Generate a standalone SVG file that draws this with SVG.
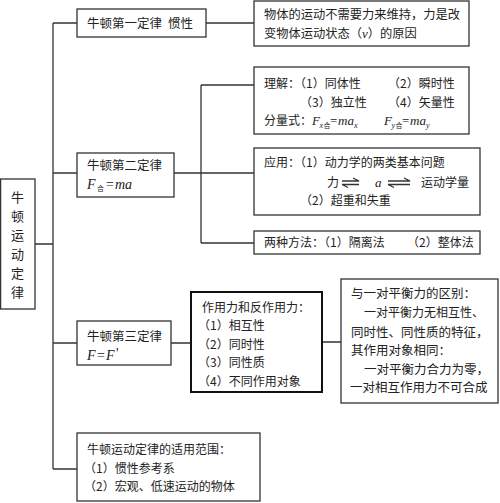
<svg xmlns="http://www.w3.org/2000/svg" width="500" height="503" viewBox="0 0 500 503">
<style>
  .box{fill:#fff;stroke:#333;stroke-width:1.3}
  .thick{fill:#fff;stroke:#111;stroke-width:2}
  .ln{fill:none;stroke:#333;stroke-width:1.3}
  text{font-family:"Noto Sans CJK SC","Noto Sans CJK JP",sans-serif;font-size:12px;fill:#222}
  .it{font-family:"Liberation Serif",serif;font-style:italic;font-size:14px}
  .eq{font-family:"Liberation Serif",serif;font-size:14px}
  .sub{font-size:7px}
  .subi{font-family:"Liberation Serif",serif;font-style:italic;font-size:8px}
  .big{font-size:12.5px}
  .root{font-size:13px;text-anchor:middle}
</style>
<rect width="500" height="503" fill="#fff"/>
<g id="connectors">
  <path class="ln" d="M35,244H53M53,23V469M53,23H77M53,173H77M53,343H77M53,469H77"/>
  <path class="ln" d="M206,23H254"/>
  <path class="ln" d="M174,173H254M201,85V243M201,85H254M201,243H254"/>
  <path class="ln" d="M171,343H191M322,342H341"/>
</g>
<g id="root">
  <rect class="box" x="0.6" y="179" width="34.4" height="130"/>
  <text class="root" x="17.5" y="202">牛</text>
  <text class="root" x="17.5" y="221">顿</text>
  <text class="root" x="17.5" y="240">运</text>
  <text class="root" x="17.5" y="259">动</text>
  <text class="root" x="17.5" y="278">定</text>
  <text class="root" x="17.5" y="297">律</text>
</g>
<g id="law1">
  <rect class="box" x="77" y="9" width="129" height="28"/>
  <text class="big" x="87" y="28">牛顿第一定律</text>
  <text class="big" x="168" y="28">惯性</text>
</g>
<g id="law1-desc">
  <rect class="box" x="254" y="1" width="215" height="45"/>
  <text x="264" y="19" style="font-size:12.25px">物体的运动不需要力来维持，力是改</text>
  <text x="264" y="38" style="font-size:12.25px">变物体运动状态（<tspan class="it" style="font-size:13px">v</tspan>）的原因</text>
</g>
<g id="law2">
  <rect class="box" x="77" y="153" width="97" height="44"/>
  <text class="big" x="87" y="170">牛顿第二定律</text>
  <text class="it" x="87" y="189">F</text>
  <text class="sub" x="97" y="191">合</text>
  <text class="eq" x="106" y="189">=</text>
  <text class="it" x="115" y="189">ma</text>
</g>
<g id="law2-understand">
  <rect class="box" x="254" y="67" width="215" height="67"/>
  <text x="264" y="88">理解：（1）同体性</text>
  <text x="388" y="88">（2）瞬时性</text>
  <text x="300" y="107">（3）独立性</text>
  <text x="388" y="107">（4）矢量性</text>
  <text x="264" y="125">分量式：</text>
  <text class="it" x="312" y="125" style="font-size:13px">F</text>
  <text class="subi" x="319.5" y="128">x</text>
  <text class="sub" x="323.5" y="128">合</text>
  <text class="eq" x="330" y="125" style="font-size:13px">=</text>
  <text class="it" x="338" y="125" style="font-size:13px">ma</text>
  <text class="subi" x="354" y="128">x</text>
  <text class="it" x="384" y="125" style="font-size:13px">F</text>
  <text class="subi" x="391.5" y="128">y</text>
  <text class="sub" x="395.5" y="128">合</text>
  <text class="eq" x="402" y="125" style="font-size:13px">=</text>
  <text class="it" x="410" y="125" style="font-size:13px">ma</text>
  <text class="subi" x="426" y="128">y</text>
</g>
<g id="law2-apply">
  <rect class="box" x="254" y="148" width="226" height="67"/>
  <text x="264" y="167">应用：（1）动力学的两类基本问题</text>
  <text x="327" y="187">力</text>
  <path class="ln" d="M342,181H359L353,178M342,184.5H359M342,184.5L348,187.5"/>
  <text class="it" x="375" y="187" style="font-size:13px">a</text>
  <path class="ln" d="M388,181H410L404,178M388,184.5H410M388,184.5L394,187.5"/>
  <text x="421" y="187">运动学量</text>
  <text x="300" y="205">（2）超重和失重</text>
</g>
<g id="law2-methods">
  <rect class="box" x="254" y="231" width="226" height="23"/>
  <text x="264" y="247">两种方法：（1）隔离法</text>
  <text x="407" y="247">（2）整体法</text>
</g>
<g id="law3">
  <rect class="box" x="77" y="321" width="94" height="44"/>
  <text class="big" x="87" y="341">牛顿第三定律</text>
  <text class="it" x="87" y="360">F</text>
  <text class="eq" x="97" y="360">=</text>
  <text class="it" x="106" y="360">F</text>
  <text class="eq" x="116" y="358">'</text>
</g>
<g id="law3-pairs">
  <rect class="thick" x="191" y="292" width="131" height="100"/>
  <text x="202" y="312">作用力和反作用力：</text>
  <text x="198" y="330">（1）相互性</text>
  <text x="198" y="349">（2）同时性</text>
  <text x="198" y="367">（3）同性质</text>
  <text x="198" y="386">（4）不同作用对象</text>
</g>
<g id="law3-diff">
  <rect class="box" x="341" y="279" width="157" height="124"/>
  <text class="big" x="351" y="298">与一对平衡力的区别：</text>
  <text x="364" y="317">一对平衡力无相互性、</text>
  <text class="big" x="351" y="337">同时性、同性质的特征，</text>
  <text class="big" x="351" y="355">其作用对象相同：</text>
  <text class="big" x="364" y="374">一对平衡力合力为零，</text>
  <text class="big" x="350" y="392">一对相互作用力不可合成</text>
</g>
<g id="scope">
  <rect class="box" x="77" y="433" width="183" height="68"/>
  <text x="87" y="454">牛顿运动定律的适用范围：</text>
  <text x="84" y="473">（1）惯性参考系</text>
  <text x="84" y="491">（2）宏观、低速运动的物体</text>
</g>
</svg>
